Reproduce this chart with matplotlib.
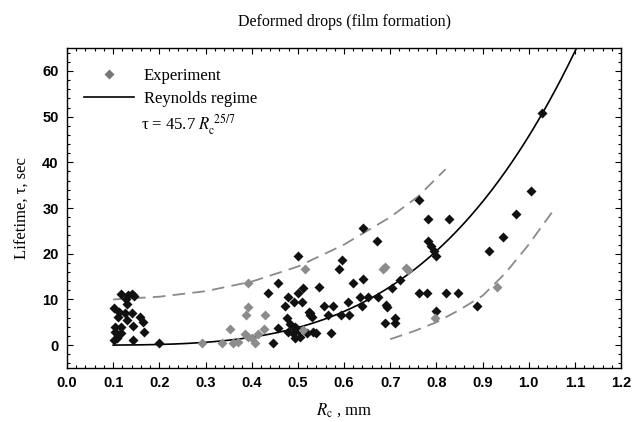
import numpy as np
import matplotlib
matplotlib.use('Agg')
import matplotlib.pyplot as plt
from matplotlib.ticker import MultipleLocator
from matplotlib.lines import Line2D

# Experiment points, black markers
rc_black = [0.117, 0.133, 0.141, 0.146, 0.127, 0.129, 0.102, 0.113, 0.126, 0.141,
            0.158, 0.165, 0.111, 0.129, 0.104, 0.117, 0.142, 0.104, 0.118, 0.167,
            0.108, 0.142, 0.110, 0.102, 0.200,
            0.447, 0.458, 0.436, 0.458, 0.500, 0.478, 0.492, 0.500, 0.512, 0.510,
            0.472, 0.476, 0.483, 0.494, 0.479, 0.490, 0.500, 0.519, 0.494, 0.505,
            0.526, 0.530, 0.533, 0.525, 0.526, 0.539, 0.572, 0.546, 0.595, 0.590,
            0.642, 0.671, 0.620, 0.642, 0.557, 0.577, 0.609, 0.635, 0.653, 0.674,
            0.640, 0.566, 0.593, 0.611, 0.703, 0.721, 0.691, 0.694, 0.689, 0.710,
            0.710, 0.763, 0.783, 0.828, 0.781, 0.788, 0.795, 0.800, 0.763, 0.779,
            0.822, 0.848, 0.800, 0.887, 0.913, 0.944, 0.972, 1.005, 1.028]
tau_black = [11.1, 11.0, 11.1, 10.8, 10.0, 9.0, 8.1, 7.3, 7.1, 7.1,
             6.2, 5.1, 6.2, 5.5, 4.0, 4.0, 4.2, 2.9, 2.6, 2.9,
             1.5, 1.1, 2.2, 1.1, 0.5,
             0.5, 3.7, 11.5, 13.6, 19.6, 10.6, 9.5, 11.5, 12.5, 9.5,
             8.6, 5.9, 4.6, 4.0, 2.9, 2.6, 3.3, 2.6, 1.5, 1.8,
             7.0, 6.2, 2.9, 7.3, 6.6, 2.7, 2.6, 12.7, 18.7, 16.6,
             25.6, 22.7, 13.6, 14.5, 8.6, 8.6, 9.5, 10.6, 10.6, 10.6,
             8.6, 6.6, 6.6, 6.6, 12.5, 14.3, 8.8, 8.4, 4.8, 5.9,
             4.8, 31.7, 27.6, 27.6, 22.7, 21.6, 20.5, 19.6, 11.5, 11.5,
             11.5, 11.5, 7.5, 8.6, 20.7, 23.7, 28.7, 33.7, 50.7]

# Experiment points, grey markers
rc_grey = [0.292, 0.335, 0.359, 0.371, 0.353, 0.386, 0.393, 0.407, 0.400, 0.413,
           0.426, 0.393, 0.388, 0.429, 0.393, 0.515, 0.689, 0.684, 0.734, 0.739,
           0.797, 0.932, 0.512]
tau_grey = [0.5, 0.5, 0.5, 0.7, 3.5, 2.4, 1.8, 0.5, 1.5, 2.4,
            3.5, 8.4, 6.6, 6.6, 13.7, 16.6, 17.2, 16.6, 16.9, 16.5,
            5.9, 12.7, 3.3]

# Reynolds regime fit: tau = 45.7 Rc^(25/7)
coef = 45.7
expo = 25.0 / 7.0
rc_fit = np.linspace(0.1, 1.106, 200)
tau_fit = coef * rc_fit ** expo

# dashed envelopes
rc_upper = [0.10, 0.20, 0.30, 0.40, 0.50, 0.60, 0.70, 0.76, 0.82]
tau_upper = [10.0, 10.6, 11.8, 13.9, 17.2, 22.0, 28.0, 32.5, 38.5]
rc_lower = [0.70, 0.75, 0.80, 0.85, 0.90, 0.95, 1.00, 1.05]
tau_lower = [1.3, 3.0, 5.0, 7.7, 10.8, 15.8, 22.0, 29.0]

plt.rcParams['mathtext.fontset'] = 'stix'
serif = 'Liberation Serif'

fig = plt.figure(figsize=(6.34, 4.22), dpi=100)
ax = fig.add_axes([0.1057, 0.128, 0.8738, 0.758])

ax.plot(rc_upper, tau_upper, color='#8a8a8a', lw=1.3, dashes=(7, 4))
ax.plot(rc_lower, tau_lower, color='#8a8a8a', lw=1.3, dashes=(7, 4))
ax.plot(rc_fit, tau_fit, color='black', lw=1.2)
ax.plot(rc_black, tau_black, 'D', color='#111111', ms=5.0, mec='none')
ax.plot(rc_grey, tau_grey, 'D', color='#8c8c8c', ms=5.0, mec='none')

ax.set_xlim(0, 1.2)
ax.set_ylim(-5, 65)
ax.xaxis.set_major_locator(MultipleLocator(0.1))
ax.xaxis.set_minor_locator(MultipleLocator(0.02))
ax.yaxis.set_major_locator(MultipleLocator(10))
ax.yaxis.set_minor_locator(MultipleLocator(2))
ax.tick_params(which='both', direction='in', top=True, right=True, width=0.8)
ax.tick_params(which='major', length=4, pad=6)
ax.tick_params(which='minor', length=2)
for lab in ax.get_xticklabels() + ax.get_yticklabels():
    lab.set_fontfamily('Liberation Sans')
    lab.set_fontweight('bold')
    lab.set_fontsize(10.5)
for sp in ax.spines.values():
    sp.set_linewidth(1.0)

ax.set_title('Deformed drops (film formation)', family=serif, fontsize=11.5, pad=16)
ax.set_ylabel('Lifetime, \u03c4, sec', family=serif, fontsize=12, labelpad=8)
ax.set_xlabel(r'$R_{\rm c}$ , mm', family=serif, fontsize=12, labelpad=8)

handles = [Line2D([], [], ls='none', marker='D', color='#777777', ms=4.6, mec='none'),
           Line2D([], [], color='black', lw=1.2)]
leg = ax.legend(handles, ['Experiment', 'Reynolds regime'], loc='upper left',
                bbox_to_anchor=(0.015, 0.965), frameon=False, handlelength=3.0,
                handletextpad=0.6, labelspacing=0.45, borderpad=0,
                prop={'family': serif, 'size': 12})
ax.text(0.133, 0.76, '\u03c4 = 45.7 $R_{\\rm c}^{\\ 25/7}$', transform=ax.transAxes,
        family=serif, fontsize=12, va='center')

fig.savefig('out.png', dpi=100)
